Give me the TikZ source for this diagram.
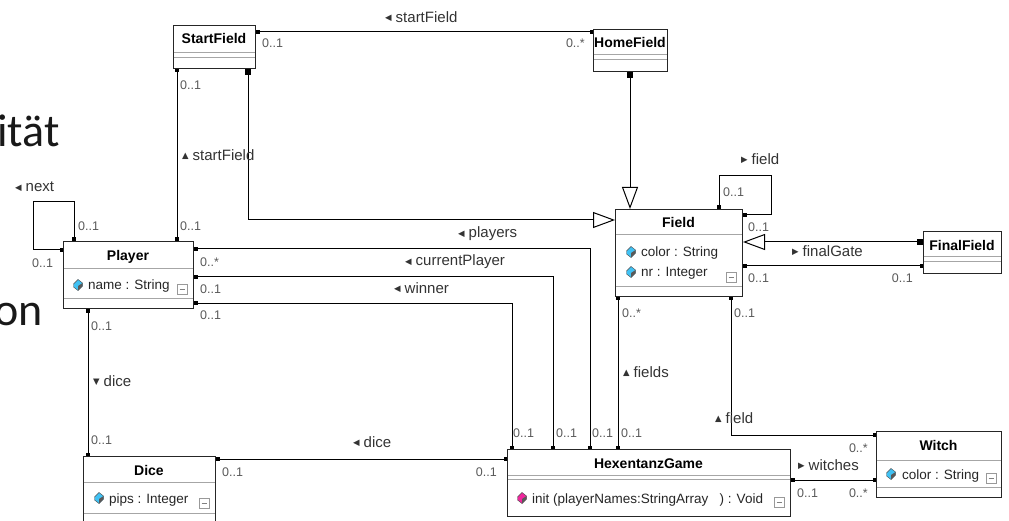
\documentclass[tikz,border=0pt]{standalone}
\usepackage{fontspec}
\setmainfont{Liberation Sans}
\newfontfamily\slidefont{Carlito}
\newfontfamily\symfont{DejaVu Sans}
\usetikzlibrary{calc,arrows.meta}

\newcommand{\dirL}{\raisebox{1.5pt}{\symfont\fontsize{8.5}{8.5}\selectfont ◀}\hspace{4pt}}
\newcommand{\dirR}{\raisebox{1.5pt}{\symfont\fontsize{8.5}{8.5}\selectfont ▶}\hspace{4pt}}
\newcommand{\dirU}{\raisebox{1.5pt}{\symfont\fontsize{8.5}{8.5}\selectfont ▲}\hspace{4pt}}
\newcommand{\dirD}{\raisebox{1.5pt}{\symfont\fontsize{8.5}{8.5}\selectfont ▼}\hspace{4pt}}

\tikzset{
  pd/.tip={Square[length=3.5pt,width=3.5pt]},
  gsrc/.tip={Square[length=6pt,width=6pt]},
  gdst/.tip={Triangle[open,length=22pt,width=16pt]},
  classbox/.style={draw=black!85, line width=1pt, fill=white, inner sep=0pt, anchor=north west},
  ctitle/.style={font=\bfseries\fontsize{14}{16}\selectfont, inner sep=0pt, anchor=base},
  cattr/.style={font=\fontsize{13.5}{16}\selectfont, text=black!85, inner sep=0pt, anchor=base west},
  mult/.style={font=\fontsize{12.5}{14}\selectfont, text=black!65, inner sep=0pt},
  role/.style={font=\fontsize{15}{17}\selectfont, text=black!80, inner sep=0pt, anchor=west},
  slide/.style={font=\slidefont\fontsize{46}{50}\selectfont, text=black!90, inner sep=0pt, anchor=base east},
  sepline/.style={draw=black!35, line width=0.8pt, shorten <=0.6pt, shorten >=0.6pt},
  assoc/.style={line width=1pt, pd-pd},
  gener/.style={line width=1pt, gsrc-gdst},
  pics/gem/.style={code={
    \filldraw[fill=#1, draw=black!70, line width=0.4pt] (-4.5,-1) -- (0,-5.5) -- (4.5,-2) -- (4.5,1) -- (0,5.5) -- (-4.5,2) -- cycle;
    \fill[black!65] (0,5.5) -- (4.5,1) -- (4.5,-2) -- (0,1) -- cycle;
  }},
  pics/collapse/.style={code={
    \draw[black!40, line width=0.6pt, fill=white] (-5,-5) rectangle (5,5);
    \draw[black!50, line width=0.6pt] (-2.5,0) -- (2.5,0);
  }},
}

\begin{document}
\begin{tikzpicture}[x=1pt,y=-1pt]
  \useasboundingbox (0,0) rectangle (1009,521);
  \clip (0,0) rectangle (1009,521);

  \node[slide] (slideA) at (60,147) {ität};
  \node[slide] (slideB) at (43,325) {on};

  \node[classbox, minimum width=82, minimum height=43] (startfield) at (173,25) {};
  \node[classbox, minimum width=74, minimum height=42] (homefield) at (593,29) {};
  \node[classbox, minimum width=127, minimum height=87] (field) at (615,209) {};
  \node[classbox, minimum width=78, minimum height=42] (finalfield) at (923,231) {};
  \node[classbox, minimum width=130, minimum height=67] (player) at (63,241) {};
  \node[classbox, minimum width=132, minimum height=80] (dice) at (83,456) {};
  \node[classbox, minimum width=283, minimum height=67] (game) at (507,449) {};
  \node[classbox, minimum width=125, minimum height=66] (witch) at (876,431) {};

  \node[ctitle] (startfield-t) at (214,43.5) {StartField};
  \node[ctitle] (homefield-t) at (630,48) {HomeField};
  \node[ctitle] (field-t) at (678.5,227.5) {Field};
  \node[ctitle] (finalfield-t) at (962,250.5) {FinalField};
  \node[ctitle] (player-t) at (128,260.5) {Player};
  \node[ctitle] (dice-t) at (149,475.5) {Dice};
  \node[ctitle] (game-t) at (648.5,468.5) {HexentanzGame};
  \node[ctitle] (witch-t) at (938.5,450.5) {Witch};

  \draw[sepline] (startfield.west |- 0,52) -- (startfield.east |- 0,52);
  \draw[sepline] (startfield.west |- 0,57) -- (startfield.east |- 0,57);
  \draw[sepline] (homefield.west |- 0,54) -- (homefield.east |- 0,54);
  \draw[sepline] (homefield.west |- 0,59) -- (homefield.east |- 0,59);
  \draw[sepline] (finalfield.west |- 0,256) -- (finalfield.east |- 0,256);
  \draw[sepline] (finalfield.west |- 0,261) -- (finalfield.east |- 0,261);
  \draw[sepline] (game.west |- 0,475) -- (game.east |- 0,475);
  \draw[sepline] (game.west |- 0,479) -- (game.east |- 0,479);
  \draw[sepline] (field.west |- 0,234) -- (field.east |- 0,234);
  \draw[sepline] (field.west |- 0,286) -- (field.east |- 0,286);
  \draw[sepline] (player.west |- 0,268) -- (player.east |- 0,268);
  \draw[sepline] (player.west |- 0,298) -- (player.east |- 0,298);
  \draw[sepline] (dice.west |- 0,482) -- (dice.east |- 0,482);
  \draw[sepline] (dice.west |- 0,513) -- (dice.east |- 0,513);
  \draw[sepline] (witch.west |- 0,460) -- (witch.east |- 0,460);
  \draw[sepline] (witch.west |- 0,487) -- (witch.east |- 0,487);

  \node[cattr] (field-color) at (641,257) {color : String};
  \node[cattr] (field-nr) at (641,277) {nr : Integer};
  \node[cattr] (player-name) at (88,290) {name : String};
  \node[cattr] (dice-pips) at (109,503) {pips : Integer};
  \node[cattr] (witch-color) at (902,479) {color : String};
  \node[cattr] (game-init) at (532,503) {init (playerNames:StringArray\ \ \ ) : Void};

  \pic at (631,252) {gem=cyan!75};
  \pic at (631,272) {gem=cyan!75};
  \pic at (78,285) {gem=cyan!75};
  \pic at (99,498) {gem=cyan!75};
  \pic at (891,474) {gem=cyan!75};
  \pic at (522,498) {gem=magenta!85};
  \pic at (731,277) {collapse};
  \pic at (182,289) {collapse};
  \pic at (204,503) {collapse};
  \pic at (991,478) {collapse};
  \pic at (779,502) {collapse};

  \draw[assoc] (startfield.east |- 0,32) -- (homefield.west |- 0,32);
  \draw[assoc] (startfield.south -| 177,0) -- (player.north -| 177,0);
  \draw[gener] (startfield.south -| 248,0) |- (field.west |- 0,220);
  \draw[gener] (homefield.south -| 630,0) -- (field.north -| 630,0);
  \draw[assoc] (field.north -| 719,0) |- (771,176) |- (field.east |- 0,215);
  \draw[gener] (finalfield.west |- 0,242) -- (field.east |- 0,242);
  \draw[assoc] (field.east |- 0,266) -- (finalfield.west |- 0,266);
  \draw[assoc] (player.north -| 74,0) |- (33,202) |- (player.west |- 0,250);
  \draw[assoc] (player.east |- 0,249) -| (game.north -| 590,0);
  \draw[assoc] (player.east |- 0,277) -| (game.north -| 553,0);
  \draw[assoc] (player.east |- 0,303) -| (game.north -| 512,0);
  \draw[assoc] (field.south -| 618,0) -- (game.north -| 618,0);
  \draw[assoc] (field.south -| 731,0) |- (witch.west |- 0,435);
  \draw[assoc] (game.east |- 0,480) -- (witch.west |- 0,480);
  \draw[assoc] (player.south -| 88,0) -- (dice.north -| 88,0);
  \draw[assoc] (dice.east |- 0,459) -- (game.west |- 0,459);

  \node[mult, anchor=west] (m1) at (262,43) {0..1};
  \node[mult, anchor=east] (m2) at (585,43) {0..*};
  \node[mult, anchor=west] (m3) at (180,85) {0..1};
  \node[mult, anchor=west] (m4) at (180,226) {0..1};
  \node[mult, anchor=west] (m5) at (723,192) {0..1};
  \node[mult, anchor=west] (m6) at (748,227) {0..1};
  \node[mult, anchor=west] (m7) at (748,278) {0..1};
  \node[mult, anchor=east] (m8) at (913,278) {0..1};
  \node[mult, anchor=west] (m9) at (78,226) {0..1};
  \node[mult, anchor=west] (m10) at (32,263) {0..1};
  \node[mult, anchor=west] (m11) at (200,262) {0..*};
  \node[mult, anchor=west] (m12) at (200,289) {0..1};
  \node[mult, anchor=west] (m13) at (200,315) {0..1};
  \node[mult, anchor=west] (m14) at (513,433) {0..1};
  \node[mult, anchor=west] (m15) at (556,433) {0..1};
  \node[mult, anchor=west] (m16) at (592,433) {0..1};
  \node[mult, anchor=west] (m17) at (621,433) {0..1};
  \node[mult, anchor=west] (m18) at (622,313) {0..*};
  \node[mult, anchor=west] (m19) at (734,313) {0..1};
  \node[mult, anchor=east] (m20) at (868,448) {0..*};
  \node[mult, anchor=west] (m21) at (797,493) {0..1};
  \node[mult, anchor=east] (m22) at (868,493) {0..*};
  \node[mult, anchor=west] (m23) at (91,326) {0..1};
  \node[mult, anchor=west] (m24) at (91,440) {0..1};
  \node[mult, anchor=west] (m25) at (222,472) {0..1};
  \node[mult, anchor=east] (m26) at (497,472) {0..1};

  \node[role] (r-startfield) at (385,17) {\dirL startField};
  \node[role] (r-startfield2) at (182,155) {\dirU startField};
  \node[role] (r-next) at (15,187) {\dirL next};
  \node[role] (r-field) at (741,159) {\dirR field};
  \node[role] (r-finalgate) at (792,251) {\dirR finalGate};
  \node[role] (r-players) at (458,234) {\dirL players};
  \node[role] (r-current) at (405,262) {\dirL currentPlayer};
  \node[role] (r-winner) at (394,288) {\dirL winner};
  \node[role] (r-fields) at (623,372) {\dirU fields};
  \node[role] (r-field2) at (715,418) {\dirU field};
  \node[role] (r-witches) at (798,465) {\dirR witches};
  \node[role] (r-dice) at (93,381) {\dirD dice};
  \node[role] (r-dice2) at (353,442) {\dirL dice};
\end{tikzpicture}
\end{document}
